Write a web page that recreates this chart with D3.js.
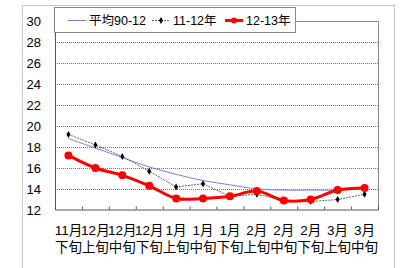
<!DOCTYPE html>
<html>
<head>
<meta charset="utf-8">
<script src="https://cdn.jsdelivr.net/npm/d3@7"></script>
<style>
  body { margin: 0; background: #fff; }
  text { font-family: "Liberation Sans", "Noto Sans CJK JP", sans-serif; fill: #000; }
</style>
</head>
<body>
<div class="chart"></div>
<script>
// categories (two-line labels)
const months = ["11月", "12月", "12月", "12月", "1月", "1月", "1月", "2月", "2月", "2月", "3月", "3月"];
const periods = ["下旬", "上旬", "中旬", "下旬", "上旬", "中旬", "下旬", "上旬", "中旬", "下旬", "上旬", "中旬"];

// series
const avg9012 = [18.8, 17.9, 17.0, 16.1, 15.4, 14.8, 14.4, 14.0, 13.9, 13.9, 13.9, 14.0];
const y1112 = [19.2, 18.2, 17.1, 15.7, 14.2, 14.5, 13.3, 13.5, 12.9, 12.8, 13.0, 13.5];
const y1213 = [17.2, 16.0, 15.3, 14.3, 13.1, 13.1, 13.3, 13.8, 12.9, 13.0, 13.9, 14.1];

const yTicks = [12, 14, 16, 18, 20, 22, 24, 26, 28, 30];

const W = 403, H = 268;
const plot = {left: 55, right: 378, top: 21, bottom: 210};

const svg = d3.select(".chart").append("svg")
    .attr("width", W)
    .attr("height", H);

// outer frame
svg.append("rect")
    .attr("x", 22.5).attr("y", 5.5)
    .attr("width", 372).attr("height", 280)
    .attr("fill", "none")
    .attr("stroke", "#c8c8c8");

// === Scales ===
const xScale = d3.scaleBand()
    .domain(d3.range(months.length))
    .range([plot.left, plot.right]);

const xEdges = d3.scaleLinear()
    .domain([0, months.length])
    .range([plot.left, plot.right]);

const yScale = d3.scaleLinear()
    .domain([12, 30])
    .range([plot.bottom, plot.top]);

const xc = i => xScale(i) + xScale.bandwidth() / 2;

// plot frame (top, right)
svg.append("path")
    .attr("d", `M${plot.left},${plot.top + 0.5}H${plot.right + 0.5}V${plot.bottom}`)
    .attr("fill", "none")
    .attr("stroke", "#888");

// gridlines
svg.append("g").selectAll("line")
    .data(yTicks.filter(d => d > 12 && d < 30))
    .enter()
    .append("line")
    .attr("x1", plot.left)
    .attr("x2", plot.right)
    .attr("y1", d => Math.round(yScale(d)) + 0.5)
    .attr("y2", d => Math.round(yScale(d)) + 0.5)
    .attr("stroke", "#777")
    .attr("stroke-dasharray", "1,1");

// y axis line
svg.append("line")
    .attr("x1", plot.left + 0.5).attr("x2", plot.left + 0.5)
    .attr("y1", plot.top).attr("y2", plot.bottom)
    .attr("stroke", "#555");

// y labels
svg.append("g").selectAll("text")
    .data(yTicks)
    .enter()
    .append("text")
    .attr("x", 41)
    .attr("y", d => yScale(d))
    .attr("dy", "0.35em")
    .attr("text-anchor", "end")
    .attr("font-size", "13px")
    .text(d => d);

// x axis with inward ticks at category edges
const xAxis = d3.axisBottom(xEdges)
    .tickValues(d3.range(months.length + 1))
    .tickSize(-3)
    .tickFormat("");

svg.append("g")
    .attr("transform", `translate(0, ${plot.bottom - 0.5})`)
    .call(xAxis)
    .call(g => g.select(".domain").attr("stroke", "#555"))
    .call(g => g.selectAll(".tick line").attr("stroke", "#555"));

// x labels
const xl = svg.append("g").selectAll("g")
    .data(months)
    .enter()
    .append("g");

xl.append("text")
    .attr("x", (d, i) => xc(i))
    .attr("y", 235)
    .attr("text-anchor", "middle")
    .attr("font-size", "13.5px")
    .attr("font-family", "Noto Sans CJK JP")
    .text(d => d);

xl.append("text")
    .attr("x", (d, i) => xc(i))
    .attr("y", 252)
    .attr("text-anchor", "middle")
    .attr("font-size", "13.5px")
    .attr("font-family", "Noto Sans CJK JP")
    .text((d, i) => periods[i]);

// === Lines ===
const smooth = d3.line()
    .x((d, i) => xc(i))
    .y(d => yScale(d))
    .curve(d3.curveCatmullRom.alpha(0.5));

const straight = d3.line()
    .x((d, i) => xc(i))
    .y(d => yScale(d));

svg.append("path")
    .datum(avg9012)
    .attr("d", smooth)
    .attr("fill", "none")
    .attr("stroke", "#7b7be0")
    .attr("stroke-width", 1);

svg.append("path")
    .datum(y1112)
    .attr("d", straight)
    .attr("fill", "none")
    .attr("stroke", "#666")
    .attr("stroke-width", 1)
    .attr("stroke-dasharray", "2,1");

const diamond = d3.symbol().type(d3.symbolDiamond).size(14);

svg.append("g").selectAll("path")
    .data(y1112)
    .enter()
    .append("path")
    .attr("d", diamond)
    .attr("transform", (d, i) => `translate(${xc(i)},${yScale(d)})`)
    .attr("fill", "#000");

svg.append("path")
    .datum(y1213)
    .attr("d", smooth)
    .attr("fill", "none")
    .attr("stroke", "#f00")
    .attr("stroke-width", 3);

svg.append("g").selectAll("circle")
    .data(y1213)
    .enter()
    .append("circle")
    .attr("cx", (d, i) => xc(i))
    .attr("cy", d => yScale(d))
    .attr("r", 4)
    .attr("fill", "#f00");

// === Legend ===
const legend = svg.append("g").attr("class", "legend");

legend.append("rect")
    .attr("x", 54.5).attr("y", 7.5)
    .attr("width", 241).attr("height", 25)
    .attr("fill", "#fff")
    .attr("stroke", "#888");

const legendItems = [
    {name: "平均90-12", x: 68, color: "#7b7be0", width: 1, dash: null, marker: null},
    {name: "11-12年", x: 152, color: "#666", width: 1, dash: "2,1", marker: "diamond"},
    {name: "12-13年", x: 225, color: "#f00", width: 3, dash: null, marker: "circle"}
];

legendItems.forEach(item => {
    legend.append("line")
        .attr("x1", item.x).attr("x2", item.x + 18)
        .attr("y1", 20.5).attr("y2", 20.5)
        .attr("stroke", item.color)
        .attr("stroke-width", item.width)
        .attr("stroke-dasharray", item.dash);
    if (item.marker === "diamond") {
        legend.append("path")
            .attr("d", diamond)
            .attr("transform", `translate(${item.x + 9},20.5)`)
            .attr("fill", "#000");
    } else if (item.marker === "circle") {
        legend.append("circle")
            .attr("cx", item.x + 9).attr("cy", 20.5)
            .attr("r", 3)
            .attr("fill", "#f00");
    }
    legend.append("text")
        .attr("x", item.x + 21)
        .attr("y", 20.5)
        .attr("dy", "0.35em")
        .attr("font-size", "12.5px")
        .attr("font-family", "Liberation Sans, Noto Sans CJK JP")
        .text(item.name);
});
</script>
</body>
</html>
